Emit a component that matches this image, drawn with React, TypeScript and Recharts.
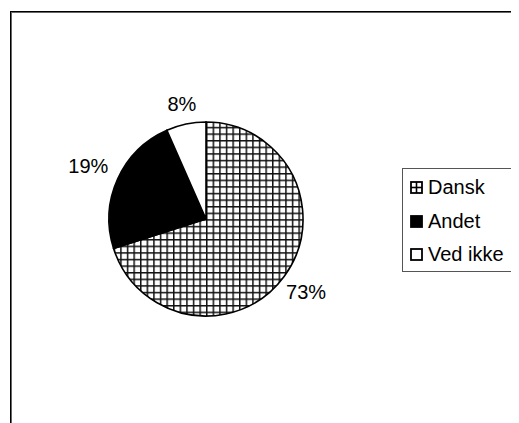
import React from "react";
import { PieChart, Pie, Cell, Legend } from "recharts";

// slice sizes as drawn in the picture, and the percentage texts printed on it
const categories = ["Dansk", "Andet", "Ved ikke"];
const shares = [70.1, 23.3, 6.6];
const labels = ["73%", "19%", "8%"];
const fills = ["url(#gridFill)", "#000000", "#ffffff"];

const data = categories.map((name, i) => ({ name, value: shares[i], label: labels[i] }));

const RADIAN = Math.PI / 180;
const FONT = "Arial, 'Liberation Sans', sans-serif";

const renderLabel = ({ cx, cy, midAngle, outerRadius, index }: any) => {
  const text = labels[index];
  const ux = Math.cos(-midAngle * RADIAN);
  const uy = Math.sin(-midAngle * RADIAN);
  const hw = text.length * 6.7;
  const hh = 10;
  const ext = Math.min(
    Math.abs(ux) > 0.001 ? hw / Math.abs(ux) : 1e6,
    Math.abs(uy) > 0.001 ? hh / Math.abs(uy) : 1e6
  );
  const r = outerRadius + 10 + ext;
  return (
    <text
      x={cx + r * ux}
      y={cy + r * uy}
      textAnchor="middle"
      dominantBaseline="central"
      fill="#000"
      fontSize={20}
      fontFamily={FONT}
    >
      {text}
    </text>
  );
};

const LegendIcon = ({ index }: { index: number }) => {
  if (index === 0) {
    return (
      <svg width={13} height={13} style={{ display: "block" }}>
        <rect x={1} y={1} width={11} height={11} fill="#fff" stroke="#000" strokeWidth={1.8} />
        <line x1={6.5} y1={1} x2={6.5} y2={12} stroke="#000" strokeWidth={1.6} />
        <line x1={1} y1={6.5} x2={12} y2={6.5} stroke="#000" strokeWidth={1.6} />
      </svg>
    );
  }
  return (
    <svg width={13} height={13} style={{ display: "block" }}>
      <rect
        x={1}
        y={1}
        width={11}
        height={11}
        fill={index === 1 ? "#000" : "#fff"}
        stroke="#000"
        strokeWidth={1.8}
      />
    </svg>
  );
};

const renderLegend = () => (
  <div
    style={{
      width: 111,
      height: 100,
      border: "1px solid #555",
      paddingTop: 2,
      boxSizing: "content-box",
      background: "#fff",
    }}
  >
    {categories.map((name, i) => (
      <div
        key={name}
        style={{
          display: "flex",
          alignItems: "center",
          height: 33.5,
          paddingLeft: 7,
          fontSize: 20,
          color: "#000",
          whiteSpace: "nowrap",
        }}
      >
        <LegendIcon index={i} />
        <span style={{ marginLeft: 5 }}>{name}</span>
      </div>
    ))}
  </div>
);

export default function App() {
  return (
    <div
      style={{
        position: "relative",
        width: 511,
        height: 415,
        overflow: "hidden",
        fontFamily: FONT,
      }}
    >
      <svg width={0} height={0} style={{ position: "absolute" }}>
        <defs>
          <pattern
            id="gridFill"
            patternUnits="userSpaceOnUse"
            width={6.6}
            height={6.6}
            x={198}
            y={0}
          >
            <rect width={6.6} height={6.6} fill="#fff" />
            <rect x={0} y={0} width={1.5} height={6.6} fill="#111" />
            <rect x={0} y={0} width={6.6} height={1.5} fill="#111" />
          </pattern>
        </defs>
      </svg>
      <div
        style={{
          position: "absolute",
          left: 2,
          top: 3,
          width: 600,
          height: 500,
          borderLeft: "1px solid #000",
          borderTop: "1px solid #000",
          boxShadow: "inset 1px 1px 0 #666",
        }}
      />
      <div style={{ position: "absolute", left: 0, top: 0 }}>
        <PieChart width={511} height={415} margin={{ top: 0, right: 0, bottom: 0, left: 0 }}>
          <Pie
            data={data}
            dataKey="value"
            nameKey="name"
            cx={198}
            cy={211}
            outerRadius={97}
            startAngle={90}
            endAngle={-270}
            stroke="#000"
            strokeWidth={1.6}
            label={renderLabel}
            labelLine={false}
            isAnimationActive={false}
          >
            {data.map((entry, index) => (
              <Cell key={`cell-${index}`} fill={fills[index]} />
            ))}
          </Pie>
          <Legend
            content={renderLegend}
            wrapperStyle={{ position: "absolute", left: 394, top: 160, width: "auto" }}
          />
        </PieChart>
      </div>
    </div>
  );
}
